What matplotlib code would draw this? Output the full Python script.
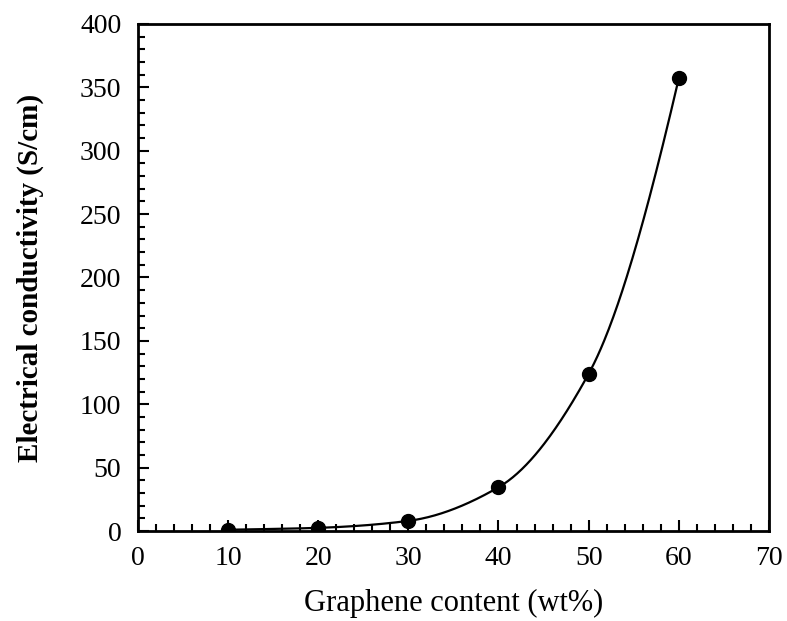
import numpy as np
import matplotlib
matplotlib.use("Agg")
import matplotlib.pyplot as plt
from matplotlib.ticker import MultipleLocator

graphene_wt = [10, 20, 30, 40, 50, 60]
conductivity = [1.0, 2.5, 8.0, 34.5, 124.0, 357.0]
x_ticks = [0, 10, 20, 30, 40, 50, 60, 70]
y_ticks = [0, 50, 100, 150, 200, 250, 300, 350, 400]


def pchip(x, y, xs):
    x = np.asarray(x, float); y = np.asarray(y, float)
    h = np.diff(x); d = np.diff(y) / h
    n = len(x); m = np.zeros(n)
    for k in range(1, n - 1):
        if d[k - 1] * d[k] > 0:
            w1 = 2 * h[k] + h[k - 1]; w2 = h[k] + 2 * h[k - 1]
            m[k] = (w1 + w2) / (w1 / d[k - 1] + w2 / d[k])
    m[0] = d[0]; m[-1] = ((2 * h[-1] + h[-2]) * d[-1] - h[-1] * d[-2]) / (h[-1] + h[-2])
    idx = np.clip(np.searchsorted(x, xs) - 1, 0, n - 2)
    t = (xs - x[idx]) / h[idx]
    h00 = 2 * t**3 - 3 * t**2 + 1; h10 = t**3 - 2 * t**2 + t
    h01 = -2 * t**3 + 3 * t**2; h11 = t**3 - t**2
    return h00 * y[idx] + h10 * h[idx] * m[idx] + h01 * y[idx + 1] + h11 * h[idx] * m[idx + 1]


plt.rcParams['font.family'] = ['Liberation Serif', 'DejaVu Serif']
fig = plt.figure(figsize=(7.87, 6.21), dpi=100)
ax = fig.add_axes([0.1753, 0.1449, 0.977 - 0.1753, 0.9614 - 0.1449])

xs = np.linspace(graphene_wt[0], graphene_wt[-1], 400)
ax.plot(xs, pchip(graphene_wt, conductivity, xs), color='black', lw=1.6)
ax.plot(graphene_wt, conductivity, 'o', color='black', ms=10)

ax.set_xlim(0, 70)
ax.set_ylim(0, 400)
ax.set_xticks(x_ticks)
ax.set_yticks(y_ticks)
ax.xaxis.set_minor_locator(MultipleLocator(2))
ax.yaxis.set_minor_locator(MultipleLocator(10))
ax.tick_params(which='both', direction='in', top=False, right=False, labelsize=20, width=1.5)
ax.tick_params(which='major', length=8)
ax.tick_params(which='minor', length=5)
ax.tick_params(axis='x', pad=11)
ax.tick_params(axis='y', pad=12)
for s in ax.spines.values():
    s.set_linewidth(2)

ax.set_xlabel('Graphene content (wt%)', fontsize=22, labelpad=13)
ax.set_ylabel('Electrical conductivity (S/cm)', fontsize=21, fontweight='bold', labelpad=26)

fig.savefig('out.png', dpi=100)
